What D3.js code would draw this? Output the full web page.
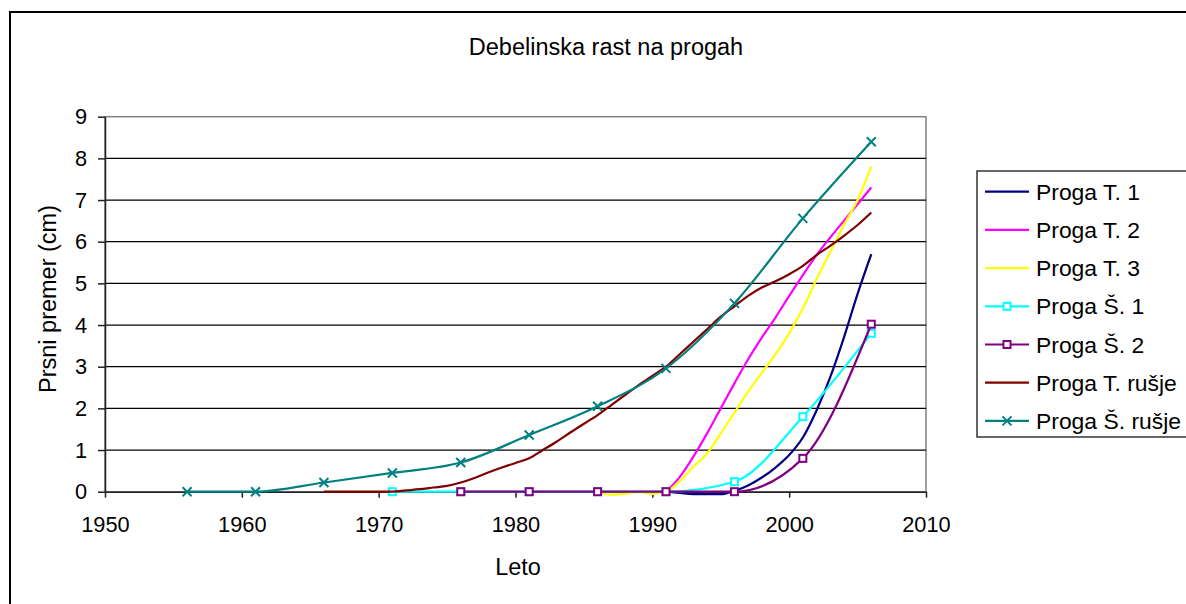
<!DOCTYPE html>
<html>
<head>
<meta charset="utf-8">
<script src="https://cdn.jsdelivr.net/npm/d3@7"></script>
<style>
  html, body { margin: 0; padding: 0; background: #fff; }
  svg { display: block; font-family: "Liberation Sans", Arial, sans-serif; }
</style>
</head>
<body>
<svg id="chart" width="1186" height="604"></svg>
<script>
// Axis ticks
const xTicks = [1950, 1960, 1970, 1980, 1990, 2000, 2010];
const yTicks = [0, 1, 2, 3, 4, 5, 6, 7, 8, 9];

// Proga T. 1
const t1Years  = [1991, 1992, 1993, 1994, 1995, 1996, 1997, 1998, 1999, 2000, 2001, 2002, 2003, 2004, 2005, 2006];
const t1Values = [0, -0.03, -0.06, -0.06, -0.06, 0.02, 0.15, 0.34, 0.58, 0.88, 1.3, 1.95, 2.75, 3.7, 4.75, 5.7];

// Proga T. 2
const t2Years  = [1991, 1992, 1993, 1994, 1995, 1996, 1997, 1998, 1999, 2000, 2001, 2002, 2003, 2004, 2005, 2006];
const t2Values = [0, 0.35, 0.84, 1.4, 2.0, 2.6, 3.18, 3.7, 4.18, 4.7, 5.2, 5.68, 6.1, 6.5, 6.9, 7.3];

// Proga T. 3
const t3Years  = [1986, 1987, 1988, 1989, 1990, 1991, 1992, 1993, 1994, 1995, 1996, 1997, 1998, 1999, 2000, 2001, 2002, 2003, 2004, 2005, 2006];
const t3Values = [0, -0.07, -0.05, -0.01, -0.05, 0, 0.25, 0.6, 0.92, 1.4, 1.9, 2.4, 2.85, 3.3, 3.8, 4.4, 5.1, 5.75, 6.4, 7.0, 7.8];

// Proga Š. 1
const s1Years  = [1971, 1976, 1981, 1986, 1991, 1996, 2001, 2006];
const s1Values = [0, 0, 0, 0, 0, 0.24, 1.8, 3.8];

// Proga Š. 2
const s2Years  = [1976, 1981, 1986, 1991, 1996, 2001, 2006];
const s2Values = [0, 0, 0, 0, 0, 0.8, 4.02];

// Proga T. rušje
const tRYears  = [1966, 1967, 1968, 1969, 1970, 1971, 1972, 1973, 1974, 1975, 1976, 1977, 1978, 1979, 1980, 1981,
                  1982, 1983, 1984, 1985, 1986, 1987, 1988, 1989, 1990, 1991, 1992, 1993, 1994, 1995, 1996,
                  1997, 1998, 1999, 2000, 2001, 2002, 2003, 2004, 2005, 2006];
const tRValues = [0, 0, 0, 0, 0, 0, 0.03, 0.06, 0.1, 0.14, 0.22, 0.33, 0.46, 0.58, 0.69, 0.8,
                  1.0, 1.2, 1.42, 1.63, 1.84, 2.08, 2.32, 2.56, 2.78, 3.0, 3.3, 3.6, 3.9, 4.2, 4.45,
                  4.7, 4.9, 5.05, 5.22, 5.42, 5.68, 5.9, 6.14, 6.4, 6.7];

// Proga Š. rušje
const sRYears  = [1956, 1961, 1966, 1971, 1976, 1981, 1986, 1991, 1996, 2001, 2006];
const sRValues = [0, 0, 0.22, 0.45, 0.7, 1.36, 2.05, 2.96, 4.52, 6.56, 8.4];

const seriesNames = ["Proga T. 1", "Proga T. 2", "Proga T. 3", "Proga Š. 1", "Proga Š. 2", "Proga T. rušje", "Proga Š. rušje"];

const series = [
  { name: seriesNames[0], years: t1Years, values: t1Values, color: "#000080", marker: null },
  { name: seriesNames[1], years: t2Years, values: t2Values, color: "#FF00FF", marker: null },
  { name: seriesNames[2], years: t3Years, values: t3Values, color: "#FFFF00", marker: null },
  { name: seriesNames[3], years: s1Years, values: s1Values, color: "#00FFFF", marker: "square" },
  { name: seriesNames[4], years: s2Years, values: s2Values, color: "#800080", marker: "square" },
  { name: seriesNames[5], years: tRYears, values: tRValues, color: "#800000", marker: null },
  { name: seriesNames[6], years: sRYears, values: sRValues, color: "#008080", marker: "cross" }
];

const svg = d3.select("#chart");

// Chart area frame
svg.append("rect")
  .attr("x", 10).attr("y", 12)
  .attr("width", 1200).attr("height", 620)
  .attr("fill", "#fff").attr("stroke", "#000").attr("stroke-width", 2);

const plot = { left: 105, right: 926, top: 116.7, bottom: 491.7 };

const x = d3.scaleLinear().domain([1950, 2010]).range([plot.left, plot.right]);
const y = d3.scaleLinear().domain([0, 9]).range([plot.bottom, plot.top]);

// Title
svg.append("text")
  .attr("x", 606).attr("y", 55)
  .attr("text-anchor", "middle")
  .style("font-size", "23.5px")
  .text("Debelinska rast na progah");

// Plot area frame
svg.append("rect")
  .attr("x", plot.left).attr("y", plot.top)
  .attr("width", plot.right - plot.left).attr("height", plot.bottom - plot.top)
  .attr("fill", "#fff").attr("stroke", "#808080").attr("stroke-width", 1.5);

// Horizontal gridlines
svg.append("g")
  .selectAll("line")
  .data(yTicks.filter(d => d > 0 && d < 9))
  .join("line")
  .attr("x1", plot.left).attr("x2", plot.right)
  .attr("y1", d => y(d)).attr("y2", d => y(d))
  .attr("stroke", "#000").attr("stroke-width", 1.2);

// Axes
const yAxis = svg.append("g")
  .attr("transform", `translate(${plot.left},0)`)
  .call(d3.axisLeft(y).tickValues(yTicks).tickSize(7).tickSizeOuter(0).tickPadding(11).tickFormat(d3.format("d")));

const xAxis = svg.append("g")
  .attr("transform", `translate(0,${plot.bottom})`)
  .call(d3.axisBottom(x).tickValues(xTicks).tickSize(6).tickSizeOuter(0).tickPadding(19).tickFormat(d3.format("d")));

[yAxis, xAxis].forEach(g => {
  g.select(".domain").attr("stroke", "#222").attr("stroke-width", 1.5);
  g.selectAll(".tick line").attr("stroke", "#222").attr("stroke-width", 1.5);
  g.selectAll(".tick text")
    .attr("fill", "#000")
    .style("font-size", "21.8px")
    .style("font-family", "'Liberation Sans', Arial, sans-serif");
});

// Axis titles
svg.append("text")
  .attr("transform", "translate(56,299) rotate(-90)")
  .attr("text-anchor", "middle")
  .style("font-size", "23.5px")
  .text("Prsni premer (cm)");

svg.append("text")
  .attr("x", 518).attr("y", 575)
  .attr("text-anchor", "middle")
  .style("font-size", "23.5px")
  .text("Leto");

// Series lines
const line = d3.line()
  .x(d => x(d[0]))
  .y(d => y(d[1]))
  .curve(d3.curveMonotoneX);

function drawMarker(g, kind, color, cx, cy) {
  if (kind === "square") {
    g.append("rect")
      .attr("x", cx - 3.5).attr("y", cy - 3.5)
      .attr("width", 7).attr("height", 7)
      .attr("fill", "#fff").attr("stroke", color).attr("stroke-width", 2);
  } else if (kind === "cross") {
    const s = 4.5;
    g.append("path")
      .attr("d", `M${cx - s},${cy - s}L${cx + s},${cy + s}M${cx - s},${cy + s}L${cx + s},${cy - s}`)
      .attr("stroke", color).attr("stroke-width", 2).attr("fill", "none");
  }
}

const linesG = svg.append("g");
series.forEach(s => {
  const pts = s.years.map((yr, i) => [yr, s.values[i]]);
  const g = linesG.append("g");
  g.append("path")
    .attr("d", line(pts))
    .attr("fill", "none")
    .attr("stroke", s.color)
    .attr("stroke-width", 2.2);
  if (s.marker) {
    pts.forEach(p => drawMarker(g, s.marker, s.color, x(p[0]), y(p[1])));
  }
});

// Legend
const legend = svg.append("g");
legend.append("rect")
  .attr("x", 977).attr("y", 171)
  .attr("width", 230).attr("height", 266)
  .attr("fill", "#fff").attr("stroke", "#000").attr("stroke-width", 1.2);

series.forEach((s, i) => {
  const cy = 191.7 + i * 38.2;
  const g = legend.append("g");
  g.append("line")
    .attr("x1", 985).attr("x2", 1029)
    .attr("y1", cy).attr("y2", cy)
    .attr("stroke", s.color).attr("stroke-width", 2.2);
  if (s.marker) drawMarker(g, s.marker, s.color, 1007, cy);
  g.append("text")
    .attr("x", 1036).attr("y", cy + 8)
    .style("font-size", "22.9px")
    .text(s.name);
});
</script>
</body>
</html>
